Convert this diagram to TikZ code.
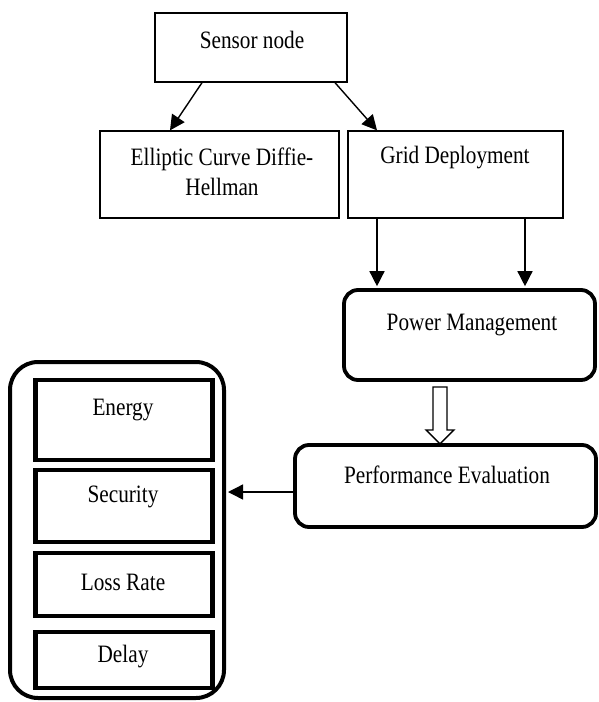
\documentclass[tikz,border=0pt]{standalone}
\usepackage{fontspec}
\setmainfont{Liberation Serif}[FakeStretch=0.85]
\usetikzlibrary{arrows.meta,calc}
\begin{document}
\begin{tikzpicture}[x=1pt,y=-1pt,
  thinbox/.style={draw, line width=1.3pt, rectangle, inner sep=0pt},
  roundbox/.style={draw, line width=3.8pt, rectangle, rounded corners=14pt, inner sep=0pt},
  metricbox/.style={draw, line width=4.5pt, rectangle, inner sep=0pt},
  outerbox/.style={draw, line width=4pt, rectangle, rounded corners=28pt, inner sep=0pt},
  lbl/.style={font=\fontsize{25}{27}\selectfont, inner sep=0pt, align=center},
  arr/.style={line width=1.4pt, -{Triangle[length=15pt,width=15pt]}}]
\useasboundingbox (0,0) rectangle (598,702);
% top level
\node[thinbox, minimum width=192, minimum height=69] (sensor) at (251,47.5) {};
\node[lbl] (tsensor) at (252,40) {Sensor node};
\node[thinbox, minimum width=239, minimum height=87] (ecdh) at (219.5,174.5) {};
\node[lbl, font=\fontsize{25}{30}\selectfont] (tecdh) at (222,172) {Elliptic Curve Diffie-\\Hellman};
\node[thinbox, minimum width=215, minimum height=87] (grid) at (455.5,174.5) {};
\node[lbl] (tgrid) at (455,158) {Grid Deployment};
% power and performance
\node[roundbox, minimum width=251, minimum height=90] (power) at (469.5,335) {};
\node[lbl] (tpower) at (472,325) {Power Management};
\node[roundbox, minimum width=301, minimum height=82] (perf) at (445.5,486) {};
\node[lbl] (tperf) at (447,475) {Performance Evaluation};
% metrics container
\node[outerbox, minimum width=214, minimum height=336] (outer) at (117,530) {};
\node[metricbox, minimum width=177, minimum height=80] (energy) at (124,420) {};
\node[lbl] (tenergy) at (123,410) {Energy};
\node[metricbox, minimum width=177, minimum height=72] (security) at (124,506) {};
\node[lbl] (tsecurity) at (123,497) {Security};
\node[metricbox, minimum width=177, minimum height=63] (loss) at (124,584.5) {};
\node[lbl] (tloss) at (123,582) {Loss Rate};
\node[metricbox, minimum width=177, minimum height=56] (delay) at (124,660) {};
\node[lbl] (tdelay) at (123,657) {Delay};
% connectors
\draw[arr] ([xshift=-49pt]sensor.south) -- ([xshift=-49.5pt]ecdh.north);
\draw[arr] ([xshift=84pt]sensor.south) -- ([xshift=-78.5pt]grid.north);
\draw[arr] ([xshift=-78.5pt]grid.south) -- ([xshift=-92.5pt,yshift=1.9pt]power.north);
\draw[arr] ([xshift=69.5pt]grid.south) -- ([xshift=55.5pt,yshift=1.9pt]power.north);
\draw[arr] ([yshift=-6pt]perf.west) -- ([xshift=2pt,yshift=38pt]outer.east);
% hollow arrow
\coordinate (hs) at ([xshift=-29.5pt,yshift=-5pt]power.south);
\draw[line width=1.3pt, fill=white] (hs) ++(-7,0) -- ++(14,0) -- ++(0,43) -- ++(7,0) -- ++(-14,14) -- ++(-14,-14) -- ++(7,0) -- cycle;
\end{tikzpicture}
\end{document}
